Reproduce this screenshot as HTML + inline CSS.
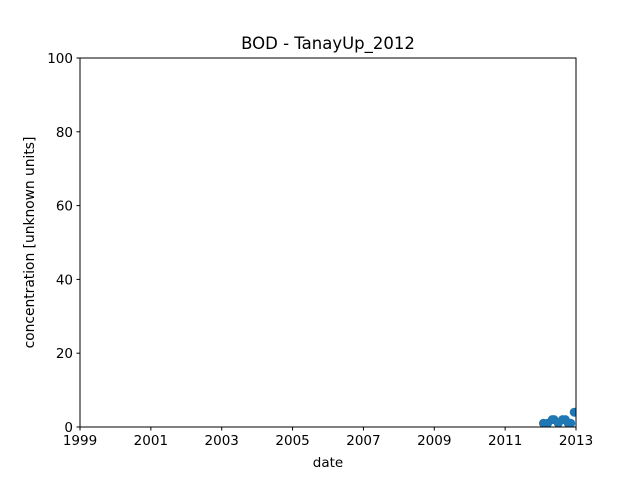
<!DOCTYPE html>
<html><head><meta charset="utf-8"><style>body{margin:0;background:#fff}svg{display:block;font-family:"DejaVu Sans","Liberation Sans",sans-serif}</style></head>
<body>
<svg id="chart" width="640" height="480">
<defs><clipPath id="clip"><rect x="80" y="58" width="496" height="369"/></clipPath></defs>
<rect x="0" y="0" width="640" height="480" fill="#fff"/>
<text x="328" y="49" text-anchor="middle" font-size="16.5">BOD - TanayUp_2012</text>
<g id="points" clip-path="url(#clip)"></g>
<rect x="80" y="58" width="496" height="369" fill="none" stroke="#000" stroke-width="1"/>
<g id="xt"></g><g id="yt"></g>
<text x="328" y="467" text-anchor="middle" font-size="13.5">date</text>
<text transform="translate(34,242.5) rotate(-90)" text-anchor="middle" font-size="13.8">concentration [unknown units]</text>
</svg>
<script>
const dates=[2012.08,2012.2,2012.33,2012.38,2012.5,2012.62,2012.7,2012.78,2012.85,2012.95];
const values=[1,1,2,2,1,2,2,1,1,4];
const xTicks=[1999,2001,2003,2005,2007,2009,2011,2013];
const yTicks=[0,20,40,60,80,100];
const NS="http://www.w3.org/2000/svg";
const x=v=>80+(v-1999)/(2013-1999)*496;
const y=v=>427-v/100*369;
function mk(t,a,p){const e=document.createElementNS(NS,t);for(const k in a)e.setAttribute(k,a[k]);p.appendChild(e);return e;}
const pts=document.getElementById('points');
dates.forEach((d,i)=>{const c=mk('circle',{cx:x(d),cy:y(values[i]),r:4.5,fill:'#1f77b4'},pts);

});
const xt=document.getElementById('xt');
xTicks.forEach(t=>{const l=mk('line',{x1:x(t),x2:x(t),y1:427,y2:430.5,stroke:'#000'},xt);


const s=mk('text',{x:x(t),y:445,'text-anchor':'middle','font-size':13.5},xt);s.textContent=t;

});
const yt=document.getElementById('yt');
yTicks.forEach(t=>{const l=mk('line',{x1:76.5,x2:80,y1:y(t),y2:y(t),stroke:'#000'},yt);


const s=mk('text',{x:73,y:y(t)+5,'text-anchor':'end','font-size':13.5},yt);s.textContent=t;

});
</script>
</body></html>
